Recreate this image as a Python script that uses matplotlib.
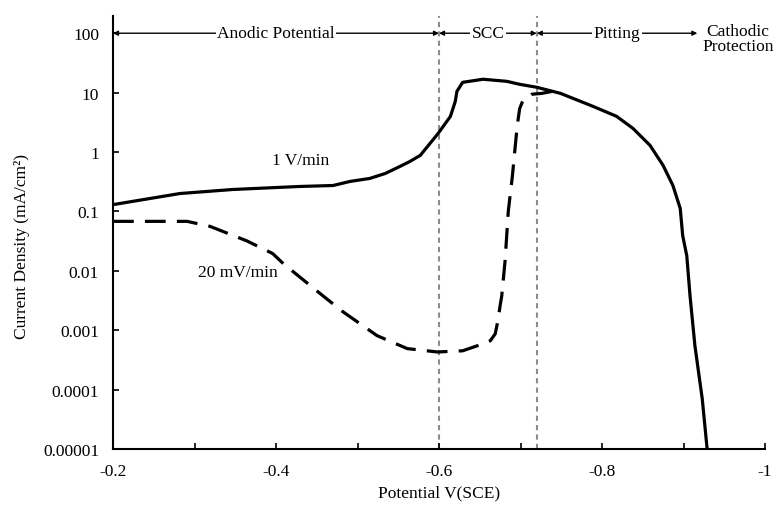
import numpy as np
import matplotlib
matplotlib.use("Agg")
import matplotlib.pyplot as plt
from matplotlib.ticker import FixedLocator, FixedFormatter

# 1 V/min scan (solid)
fast_v = [-0.200, -0.282, -0.347, -0.429, -0.470, -0.491, -0.515, -0.534, -0.552,
          -0.564, -0.577, -0.599, -0.614, -0.620, -0.622, -0.629, -0.654, -0.683,
          -0.699, -0.720, -0.749, -0.789, -0.818, -0.838, -0.859, -0.875, -0.887,
          -0.896, -0.899, -0.904, -0.908, -0.914, -0.923, -0.929]
fast_i = [0.130, 0.200, 0.234, 0.263, 0.273, 0.32, 0.359, 0.435, 0.571,
          0.69, 0.877, 2.06, 3.98, 7.13, 10.5, 14.9, 16.8, 15.5,
          13.8, 12.3, 9.72, 5.87, 3.98, 2.50, 1.29, 0.594, 0.273,
          0.112, 0.0392, 0.0180, 0.00382, 5.48e-4, 7.0e-5, 1e-5]

# 20 mV/min scan (dashed)
slow_v = [-0.200, -0.266, -0.291, -0.319, -0.364, -0.396, -0.409, -0.450, -0.482,
          -0.524, -0.561, -0.598, -0.629, -0.654, -0.663, -0.669, -0.672, -0.675,
          -0.677, -0.681, -0.685, -0.690, -0.696, -0.699, -0.703, -0.714, -0.726,
          -0.739]
slow_i = [0.068, 0.068, 0.068, 0.056, 0.032, 0.0195, 0.0132, 0.0046, 0.00205,
          8.1e-4, 4.9e-4, 4.3e-4, 4.5e-4, 5.9e-4, 6.65e-4, 8.7e-4, 1.39e-3, 2.59e-3,
          3.8e-3, 0.0143, 0.1, 0.39, 2.8, 5.4, 7.4, 9.4, 9.7,
          10.5]

region_edges = [-0.6, -0.72]
regions = [("Anodic Potential", -0.2, -0.6),
           ("SCC", -0.6, -0.72),
           ("Pitting", -0.72, -0.917),
           ("Cathodic\nProtection", -0.925, -1.012)]

y_ticks = [1e-5, 1e-4, 1e-3, 1e-2, 1e-1, 1, 10, 100]
y_labels = ["0.00001", "0.0001", "0.001", "0.01", "0.1", "1", "10", "100"]
x_ticks = [-0.2, -0.4, -0.6, -0.8, -1.0]
x_labels = ["-0.2", "-0.4", "-0.6", "-0.8", "-1"]

plt.rcParams['font.family'] = ['Liberation Serif', 'DejaVu Serif']
fs = 12.5

fig = plt.figure(figsize=(7.79, 5.06), dpi=100)
ax = fig.add_axes([113 / 779, 1 - 450 / 506, (765 - 113) / 779, (450 - 17) / 506])

ax.set_yscale('log')
ax.set_xlim(-0.2, -1.0)
ax.set_ylim(1e-5, 10 ** 2.29)

for xv in region_edges:
    ax.axvline(xv, color='#8c8c8c', lw=1.5, ls=(0, (2.5, 2.0)), zorder=1)

ax.plot(fast_v, fast_i, color='black', lw=2.3, solid_joinstyle='round', zorder=3)
ax.plot(slow_v, slow_i, color='black', lw=2.3, ls=(0, (6.5, 3.5)), zorder=3)

ax.text(-0.43, 0.72, "1 V/min", fontsize=fs, ha='center', va='center')
ax.text(-0.353, 0.0095, "20 mV/min", fontsize=fs, ha='center', va='center')

for label, x0, x1 in regions:
    ax.annotate('', xy=(x0, 100), xytext=(x1, 100),
                arrowprops=dict(arrowstyle='<|-|>', mutation_scale=7, lw=1.0,
                                color='black', shrinkA=0, shrinkB=0),
                annotation_clip=False, zorder=4)
    if "\n" in label:
        ax.text(-0.967, 82, label, fontsize=fs, ha='center', va='center',
                linespacing=0.95, clip_on=False, zorder=5,
                bbox=dict(facecolor='white', edgecolor='none', pad=0.0))
    else:
        ax.text((x0 + x1) / 2, 100, label, fontsize=fs, ha='center', va='center',
                zorder=5, bbox=dict(facecolor='white', edgecolor='none', pad=1.0))

ax.yaxis.set_major_locator(FixedLocator(y_ticks))
ax.yaxis.set_major_formatter(FixedFormatter(y_labels))
ax.yaxis.set_minor_locator(FixedLocator([]))
ax.xaxis.set_major_locator(FixedLocator(x_ticks))
ax.xaxis.set_major_formatter(FixedFormatter(x_labels))
ax.xaxis.set_minor_locator(FixedLocator([-0.3, -0.5, -0.7, -0.9]))

ax.tick_params(which='both', direction='in', length=4, width=1.2, labelsize=fs)
ax.tick_params(axis='y', pad=10)
ax.tick_params(axis='x', pad=10)

for s in ['top', 'right']:
    ax.spines[s].set_visible(False)
for s in ['left', 'bottom']:
    ax.spines[s].set_linewidth(1.5)

ax.set_xlabel("Potential V(SCE)", fontsize=fs)
ax.set_ylabel("Current Density (mA/cm²)", fontsize=fs)
ax.xaxis.set_label_coords(0.5, -0.081)
ax.yaxis.set_label_coords(-0.127, 0.471)

fig.savefig("out.png", dpi=100)
